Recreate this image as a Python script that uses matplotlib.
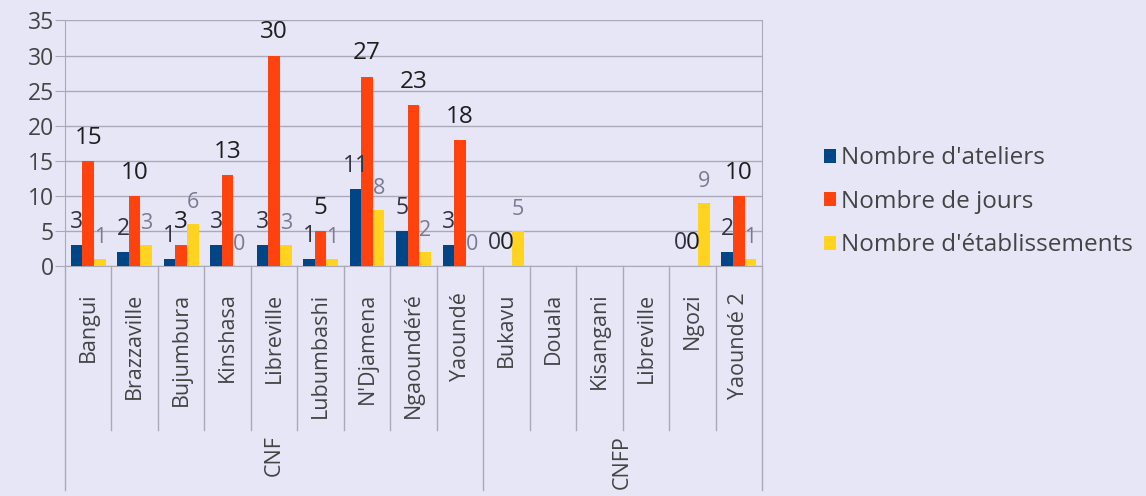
import matplotlib.pyplot as plt
import matplotlib.transforms as mtransforms
import numpy as np

plt.rcParams['font.family'] = ['Open Sans', 'DejaVu Sans']

categories = ['Bangui', 'Brazzaville', 'Bujumbura', 'Kinshasa', 'Libreville',
              'Lubumbashi', "N'Djamena", 'Ngaoundéré', 'Yaoundé',
              'Bukavu', 'Douala', 'Kisangani', 'Libreville', 'Ngozi', 'Yaoundé 2']
groups = ['CNF', 'CNFP']
group_sizes = [9, 6]

ateliers = [3, 2, 1, 3, 3, 1, 11, 5, 3, 0, np.nan, np.nan, np.nan, 0, 2]
jours = [15, 10, 3, 13, 30, 5, 27, 23, 18, 0, np.nan, np.nan, np.nan, 0, 10]
etablissements = [1, 3, 6, 0, 3, 1, 8, 2, 0, 5, np.nan, np.nan, np.nan, 9, 1]

# name, values, bar colour, label colour, label size
series = [("Nombre d'ateliers", ateliers, '#004586', '#333340', 16.5),
          ("Nombre de jours", jours, '#ff420e', '#1e1e1e', 17.5),
          ("Nombre d'établissements", etablissements, '#ffd320', '#7a7a92', 15.5)]

bg = '#e6e6f7'
grid_c = '#a9a9b8'
fig = plt.figure(figsize=(11.46, 4.96), dpi=100, facecolor=bg)
ax = fig.add_axes([0.0567, 0.4637, 0.6083, 0.4950], facecolor=bg)

x = np.arange(len(categories))
w = 0.25
for i, (name, vals, color, lcolor, lsize) in enumerate(series):
    pos = x + (i - 1) * w
    ax.bar(pos, vals, width=w, color=color, label=name, zorder=3)
    for p, v in zip(pos, vals):
        if not np.isnan(v):
            ax.annotate(f'{int(v)}', (p, v), xytext=(0, 8), textcoords='offset points',
                        ha='center', va='bottom', fontsize=lsize, color=lcolor, zorder=4)

ax.set_xlim(-0.5, len(categories) - 0.5)
ax.set_ylim(0, 35)
ax.set_yticks(range(0, 36, 5))
ax.grid(axis='y', color=grid_c, linewidth=1, zorder=0)
ax.tick_params(axis='y', length=7, color=grid_c, labelsize=16.5,
               labelcolor='#444444', pad=1)
ax.spines['top'].set_visible(False)
for s in ['left', 'right', 'bottom']:
    ax.spines[s].set_color(grid_c)

ax.set_xticks(x)
ax.set_xticklabels(categories, rotation=90, fontsize=15.5, color='#444444', va='top')
ax.tick_params(axis='x', length=0, pad=19)

# separators below the axis
trans = mtransforms.blended_transform_factory(ax.transData, ax.transAxes)
bounds = np.cumsum([0] + group_sizes) - 0.5
for k in range(len(categories) + 1):
    xb = k - 0.5
    end = -0.912 if xb in bounds else -0.668
    ax.plot([xb, xb], [0, end], color=grid_c, linewidth=1,
            transform=trans, clip_on=False)

start = 0
for g, n in zip(groups, group_sizes):
    xc = start + (n - 1) / 2
    ax.text(xc, -0.69, g, rotation=90, ha='center', va='top', fontsize=15.5,
            color='#444444', transform=trans)
    start += n

leg = fig.legend(loc='center left', bbox_to_anchor=(0.7, 0.593), frameon=False,
                 fontsize=17.5, handlelength=0.5, handleheight=0.5, handletextpad=0.2,
                 labelspacing=0.8)
for t in leg.get_texts():
    t.set_color('#444444')

fig.savefig('out.png', dpi=100, facecolor=bg)
